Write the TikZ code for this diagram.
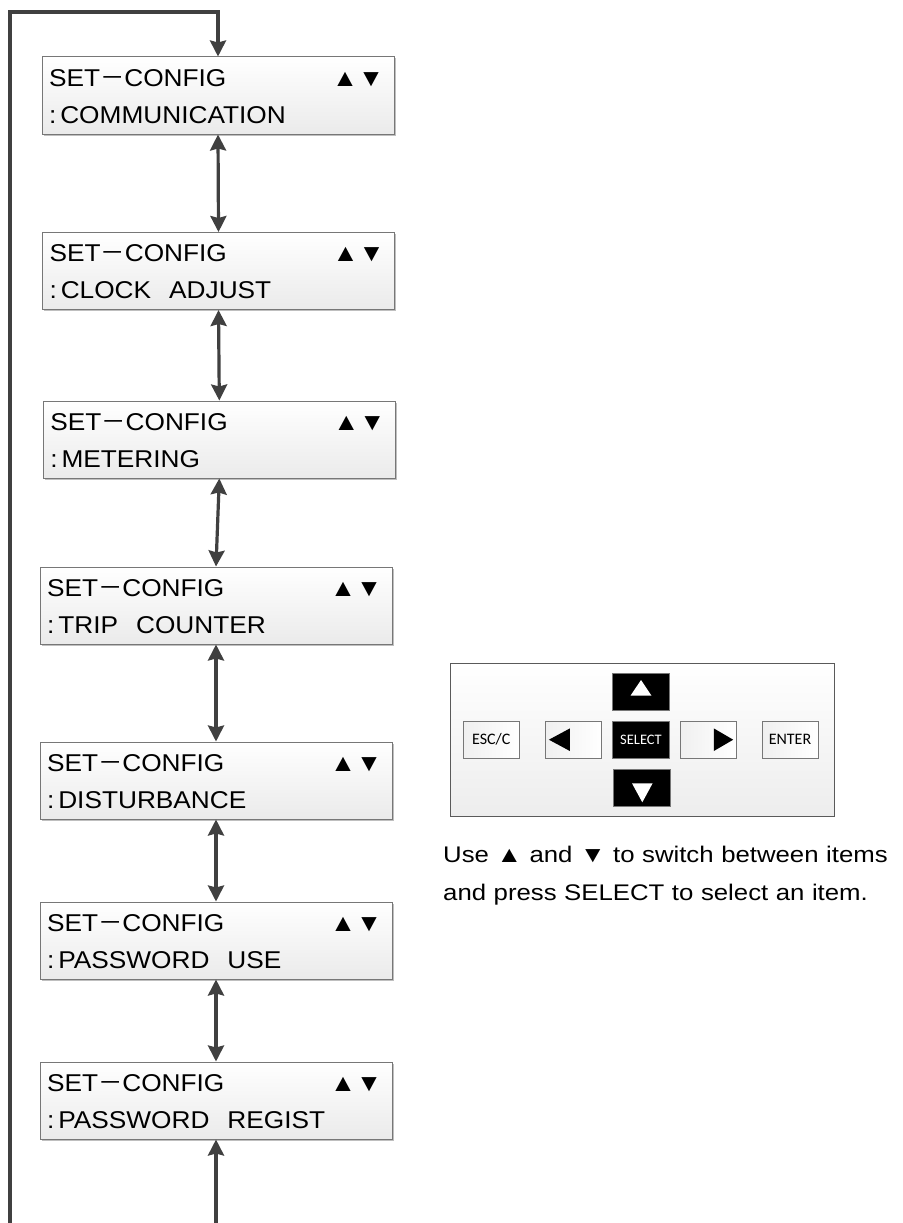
\documentclass[tikz,border=0pt]{standalone}
\usepackage{fontspec}
\usepackage{tikz}
\usetikzlibrary{arrows.meta}
\usetikzlibrary{shadows}
\setmainfont{Liberation Sans}
\newfontfamily\lcdfont{Liberation Sans}[FakeStretch=1.08]
\newfontfamily\capfont{Liberation Sans}[FakeStretch=1.14]
\newfontfamily\cjkfont{Noto Sans CJK SC}
\newfontfamily\keyfont{Carlito}
\definecolor{lineColor}{HTML}{404040}
\definecolor{frameColor}{HTML}{777777}
\definecolor{padColor}{HTML}{5A5A5A}
\newcommand{\cfgmenu}[1]{SET{\cjkfont －}CONFIG\hfill▲▼\kern3pt\\:\kern4pt#1}
\newcommand{\wgap}{\hspace{18pt}}

\begin{document}
\begin{tikzpicture}[x=1pt, y=-1pt, >={Stealth[length=16pt, width=16pt, inset=2pt]},
		every node/.style={inner sep=0pt}]
			\tikzset{
				menu/.style={draw=frameColor, line width=1pt, top color=white, bottom color=black!8,
					drop shadow={shadow xshift=1.5pt, shadow yshift=-1.5pt, opacity=0.25, fill=black},
					minimum width=352pt, minimum height=77pt, inner xsep=7pt, text width=338pt,
					align=left, text height=29pt, text depth=48pt,
					font=\lcdfont\fontsize{24.3}{37}\selectfont},
				link/.style={draw=lineColor, line width=3.2pt},
				pad/.style={draw=padColor, line width=1pt, top color=white, bottom color=black!7},
				key/.style={draw=frameColor, line width=1pt, left color=black!6, right color=white,
					minimum width=56pt, minimum height=37pt, font=\keyfont\fontsize{16}{17}\selectfont},
				keyon/.style={draw=frameColor, line width=1pt, fill=black, text=white,
					minimum width=57pt, minimum height=37.5pt, font=\keyfont\fontsize{14.5}{15}\selectfont}
			}
			\useasboundingbox[fill=white] (0,0) rectangle (902,1223);
			\node[menu] (b1) at (218,95.5) {\cfgmenu{COMMUNICATION}};
			\node[menu] (b2) at (218.5,271) {\cfgmenu{CLOCK\wgap ADJUST}};
			\node[menu] (b3) at (219.3,439.5) {\cfgmenu{METERING}};
			\node[menu] (b4) at (216,605.5) {\cfgmenu{TRIP\wgap COUNTER}};
			\node[menu] (b5) at (216,780.5) {\cfgmenu{DISTURBANCE}};
			\node[menu] (b6) at (216,940.5) {\cfgmenu{PASSWORD\wgap USE}};
			\node[menu] (b7) at (216,1100.5) {\cfgmenu{PASSWORD\wgap REGIST}};
			\coordinate (loopStart) at (10,1230);
			\coordinate (loopTop) at (10,12);
			\coordinate (feedIn) at (216,1230);
			\draw[link,<->] (b1.south) -- (b2.north);
			\draw[link,<->] (b2.south) -- (b3.north);
			\draw[link,<->] (b3.south) -- (b4.north);
			\draw[link,<->] (b4.south) -- (b5.north);
			\draw[link,<->] (b5.south) -- (b6.north);
			\draw[link,<->] (b6.south) -- (b7.north);
			\draw[link,->] (loopStart) -- (loopTop) -| (b1.north);
			\draw[link,->] (feedIn) -- (b7.south);
			% keypad
			\node[pad, minimum width=384pt, minimum height=153pt] (pad) at (642,739.5) {};
			\node[key] (esc) at (491.3,739.7) {ESC/C};
			\node[key] (lft) at (573.8,739.7) {};
			\node[keyon] (sel) at (641,740) {SELECT};
			\node[key] (rgt) at (708,739.7) {};
			\node[key] (ent) at (790,739.7) {ENTER};
			\node[keyon] (up) at (641,692.2) {};
			\node[keyon] (dn) at (642.3,788) {};
			\fill (lft.west) ++(3.6,0) -- ++(21,-11.3) -- ++(0,22.6) -- cycle;
			\fill (rgt.east) ++(-3.3,0) -- ++(-19.4,-11.3) -- ++(0,22.6) -- cycle;
			\fill[white] (up.center) ++(0,-12.2) -- ++(10.5,15.7) -- ++(-21,0) -- cycle;
			\fill[white] (dn.center) ++(0,14.3) -- ++(10.3,-19) -- ++(-20.6,0) -- cycle;
			\node[anchor=base west, align=left, text width=455pt,
				font=\capfont\fontsize{22.6}{38}\selectfont] (hint) at (443,862.3)
				{Use ▲ and ▼ to switch between items\\and press SELECT to select an item.};
		\end{tikzpicture}
\end{document}
